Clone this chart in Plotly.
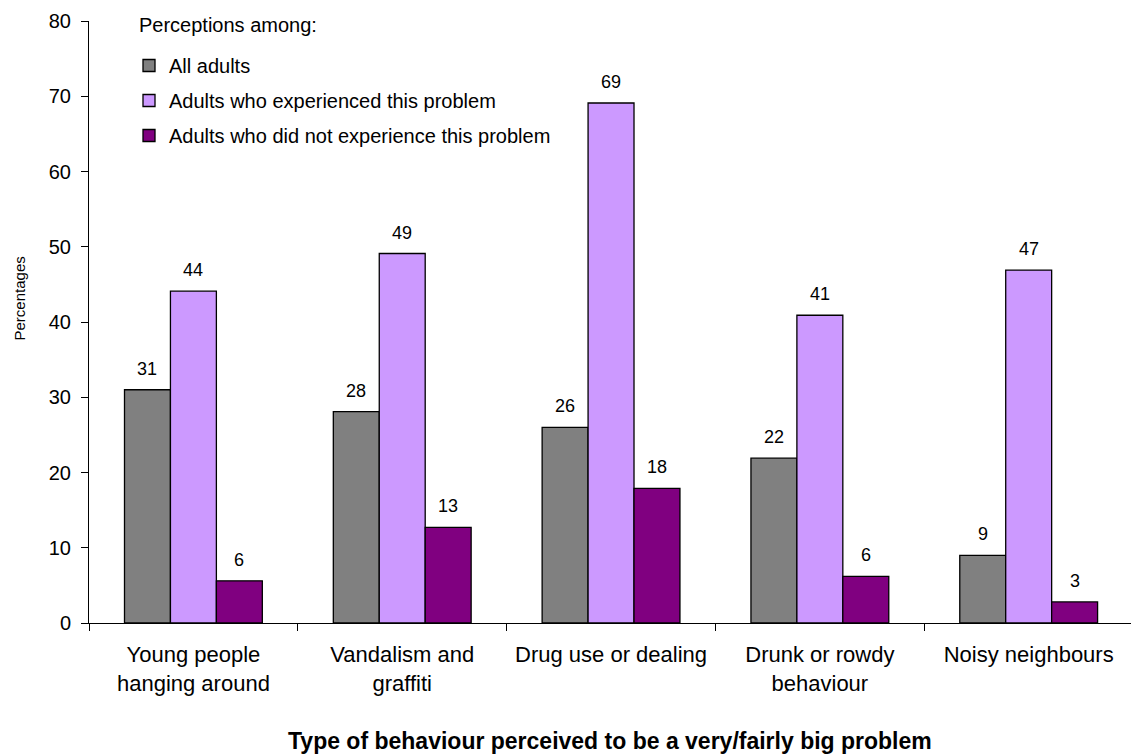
import plotly.graph_objects as go

categories = ["Young people<br>hanging around", "Vandalism and<br>graffiti",
              "Drug use or dealing", "Drunk or rowdy<br>behaviour", "Noisy neighbours"]
series_names = ["All adults", "Adults who experienced this problem",
                "Adults who did not experience this problem"]
all_adults = [31.0, 28.1, 26.0, 21.9, 9.0]
experienced = [44.1, 49.1, 69.1, 40.9, 46.9]
not_experienced = [5.6, 12.7, 17.9, 6.2, 2.8]
labels_all = [31, 28, 26, 22, 9]
labels_exp = [44, 49, 69, 41, 47]
labels_not = [6, 13, 18, 6, 3]
y_ticks = [0, 10, 20, 30, 40, 50, 60, 70, 80]

colors = ["#808080", "#CC99FF", "#800080"]
values = [all_adults, experienced, not_experienced]
labels = [labels_all, labels_exp, labels_not]

FONT = "Liberation Sans, Arial, sans-serif"

fig = go.Figure()
for i, (name, vals, col) in enumerate(zip(series_names, values, colors)):
    fig.add_trace(go.Bar(
        x=categories, y=vals, name=name, legendgroup=f"g{i}",
        marker=dict(color=col, line=dict(color="#000000", width=1.3)),
        hoverinfo="x+y",
    ))

L, R, T, B = 89, 0, 21, 131
W, H = 1131, 754
xr = [-0.5, 4.49]
plot_w = W - L - R
plot_h = H - T - B
ppu = plot_w / (xr[1] - xr[0])
bargap = 0.34
bw = ppu * (1 - bargap) / 3

annotations = []
for i, (vals, labs) in enumerate(zip(values, labels)):
    for c, v, lab in zip(categories, vals, labs):
        annotations.append(dict(
            x=c, y=v, xref="x", yref="y", text=str(lab), showarrow=False,
            xshift=(i - 1) * bw, yshift=9, yanchor="bottom",
            font=dict(family=FONT, size=18, color="#000000")))

# y-axis title
annotations.append(dict(
    x=(18.5 - L) / plot_w, xref="paper", xanchor="center",
    y=(H - B - 299) / plot_h, yref="paper", yanchor="middle",
    text="Percentages", textangle=-90, showarrow=False,
    font=dict(family=FONT, size=15, color="#000000")))
# x-axis title
annotations.append(dict(
    x=0.5, xref="paper", xanchor="center",
    y=-(741 - (H - B)) / plot_h, yref="paper", yanchor="middle",
    text="<b>Type of behaviour perceived to be a very/fairly big problem</b>",
    showarrow=False, font=dict(family=FONT, size=23, color="#000000")))
# legend heading
annotations.append(dict(
    x=(137 - L) / plot_w, xref="paper", xanchor="left",
    y=1 - (25 - T) / plot_h, yref="paper", yanchor="middle",
    text="Perceptions among:", showarrow=False,
    font=dict(family=FONT, size=20, color="#000000")))

fig.update_layout(
    width=W, height=H,
    margin=dict(l=L, r=R, t=T, b=B),
    paper_bgcolor="white", plot_bgcolor="white",
    barmode="group", bargap=bargap, bargroupgap=0,
    font=dict(family=FONT, size=20, color="#000000"),
    showlegend=True,
    legend=dict(
        x=(129 - L) / plot_w, y=1 - (46 - T) / plot_h, xanchor="left", yanchor="top",
        font=dict(family=FONT, size=20),
        traceorder="grouped", tracegroupgap=6,
        bgcolor="rgba(0,0,0,0)", borderwidth=0,
        itemwidth=30,
    ),
    annotations=annotations,
)

fig.update_xaxes(
    range=xr, showline=True, linecolor="#000000", linewidth=1,
    ticks="outside", tickson="boundaries", ticklen=7, tickcolor="#000000",
    showgrid=False, zeroline=False, ticklabelstandoff=12,
    tickfont=dict(family=FONT, size=22),
)
fig.update_yaxes(
    range=[0, 80], tickvals=y_ticks, showline=True, linecolor="#000000", linewidth=1,
    ticks="outside", ticklen=7, tickcolor="#000000",
    showgrid=False, zeroline=False, ticklabelstandoff=6,
    tickfont=dict(family=FONT, size=20),
)

fig.write_html("out.html")
